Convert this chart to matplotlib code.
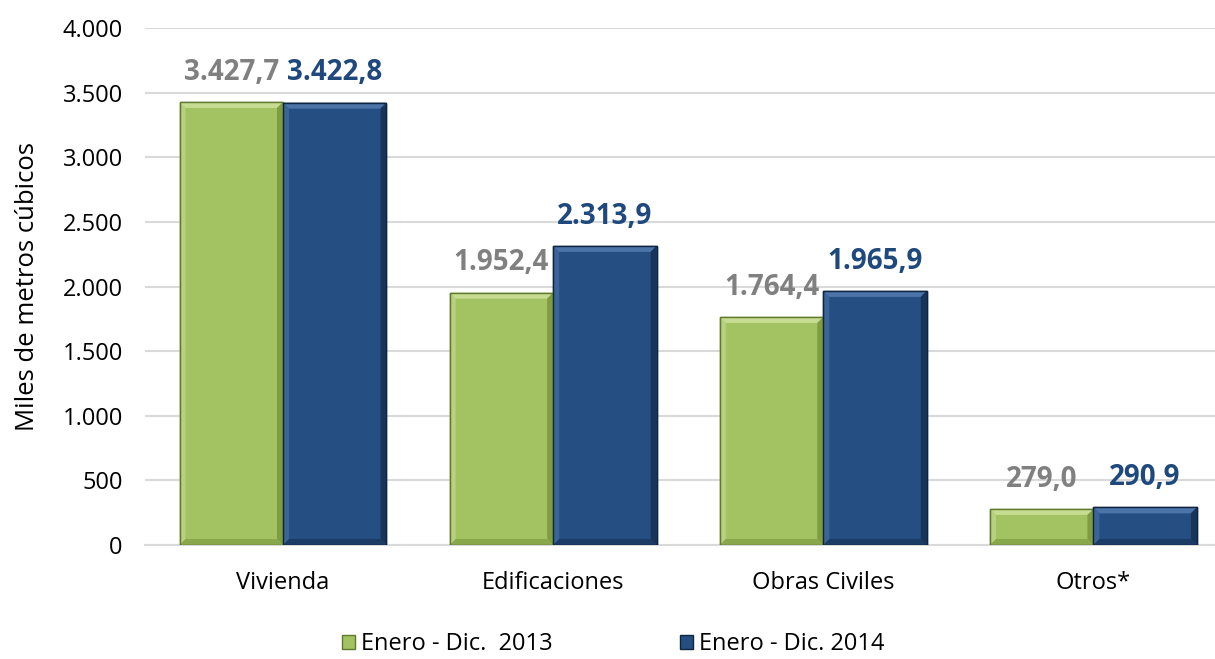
import matplotlib
matplotlib.use("Agg")
import matplotlib.pyplot as plt
from matplotlib.patches import Patch, Polygon
import numpy as np

categories = ["Vivienda", "Edificaciones", "Obras Civiles", "Otros*"]
values_2013 = [3427.7, 1952.4, 1764.4, 279.0]
values_2014 = [3422.8, 2313.9, 1965.9, 290.9]
labels_2013 = ["3.427,7", "1.952,4", "1.764,4", "279,0"]
labels_2014 = ["3.422,8", "2.313,9", "1.965,9", "290,9"]
series_names = ["Enero - Dic.  2013", "Enero - Dic. 2014"]
yticks = [0, 500, 1000, 1500, 2000, 2500, 3000, 3500, 4000]
ytick_labels = ["0", "500", "1.000", "1.500", "2.000", "2.500", "3.000", "3.500", "4.000"]

plt.rcParams['font.family'] = ['Open Sans', 'DejaVu Sans']

fig = plt.figure(figsize=(12.15, 6.59), dpi=100)
ax = fig.add_axes([0.1193, 0.173, 0.8807, 0.7845])

green = "#A3C262"
green_edge = "#5F7A2C"
green_light = "#C6DC92"
green_dark = "#7F9C42"
blue = "#254F83"
blue_edge = "#0F2440"
blue_light = "#4B74A8"
blue_dark = "#173459"

x = np.arange(len(categories))
w = 0.383
ax.set_xlim(-0.511, 3.45)
ax.set_ylim(0, 4000)

b1 = ax.bar(x - w / 2, values_2013, w, color=green, edgecolor=green_edge, linewidth=1.0, zorder=3)
b2 = ax.bar(x + w / 2, values_2014, w, color=blue, edgecolor=blue_edge, linewidth=1.0, zorder=3)


def bevel(bars, light, dark):
    inv = ax.transData.inverted()
    for r in bars:
        x0, y0 = r.get_x(), r.get_y()
        x1, y1 = x0 + r.get_width(), y0 + r.get_height()
        (px0, py0) = ax.transData.transform((x0, y0))
        (px1, py1) = ax.transData.transform((x1, y1))
        d = 6
        corners = [(px0, py0), (px1, py0), (px1, py1), (px0, py1)]
        inner = [(px0 + d, py0 + d), (px1 - d, py0 + d), (px1 - d, py1 - d), (px0 + d, py1 - d)]
        c = [inv.transform(p) for p in corners]
        i = [inv.transform(p) for p in inner]
        ax.add_patch(Polygon([c[3], c[2], i[2], i[3]], closed=True, color=light, lw=0, zorder=4))
        ax.add_patch(Polygon([c[0], c[3], i[3], i[0]], closed=True, color=light, lw=0, alpha=0.6, zorder=4))
        ax.add_patch(Polygon([c[1], c[2], i[2], i[1]], closed=True, color=dark, lw=0, zorder=4))
        ax.add_patch(Polygon([c[0], c[1], i[1], i[0]], closed=True, color=dark, lw=0, alpha=0.7, zorder=4))
        ax.add_patch(Polygon(c, closed=True, fill=False, ec=r.get_edgecolor(), lw=1.0, zorder=5))


bevel(b1, green_light, green_dark)
bevel(b2, blue_light, blue_dark)

for xi, v, lab in zip(x, values_2013, labels_2013):
    ax.annotate(lab, (xi - w / 2, v), xytext=(0, 11), textcoords="offset points",
                ha="center", va="bottom", fontsize=20, fontweight="bold", color="#808080")
for xi, v, lab in zip(x, values_2014, labels_2014):
    ax.annotate(lab, (xi + w / 2, v), xytext=(0, 11), textcoords="offset points",
                ha="center", va="bottom", fontsize=20, fontweight="bold", color="#1F497D")

ax.set_yticks(yticks)
ax.set_yticklabels(ytick_labels, fontsize=17)
ax.set_xticks(x)
ax.set_xticklabels(categories, fontsize=17)
ax.tick_params(axis="y", length=0, pad=16)
ax.tick_params(axis="x", length=0, pad=19)
ax.grid(axis="y", color="#D9D9D9", linewidth=1.5, zorder=0)
ax.set_axisbelow(True)
for s in ["left", "right", "top"]:
    ax.spines[s].set_visible(False)
ax.spines["bottom"].set_color("#D9D9D9")
ax.spines["bottom"].set_linewidth(1.5)
ax.set_ylabel("Miles de metros cúbicos", fontsize=18.5)
ax.yaxis.set_label_coords(-0.098, 0.5)

handles = [Patch(facecolor=green, edgecolor=green_edge), Patch(facecolor=blue, edgecolor=blue_edge)]
fig.legend(handles, series_names, loc="lower center", ncol=2, frameon=False, fontsize=17,
           bbox_to_anchor=(0.505, -0.028), handlelength=0.55, handleheight=0.55, handletextpad=0.25,
           columnspacing=5.4)

fig.savefig("out.png", dpi=100)
